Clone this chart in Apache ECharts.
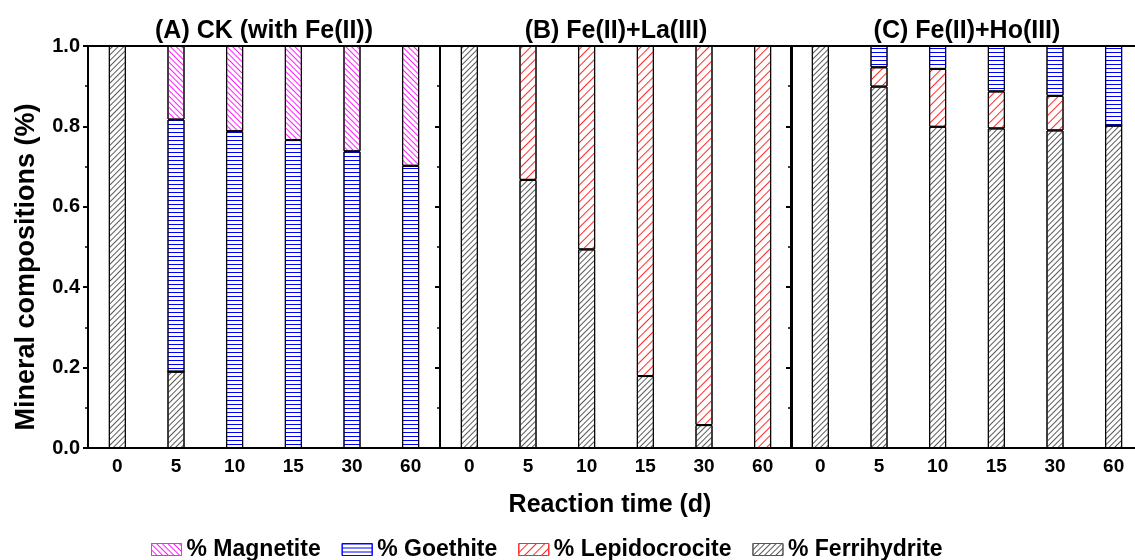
<!DOCTYPE html>
<html>
<head>
<meta charset="UTF-8">
<title>Mineral compositions</title>
<style>
  body { margin: 0; background: #fff; }
  #main { width: 1135px; height: 560px; }
</style>
</head>
<body>
<div id="main"></div>
<script src="https://cdn.jsdelivr.net/npm/echarts@6/dist/echarts.min.js"></script>
<script>
// reaction time categories (days)
var days = ['0', '5', '10', '15', '30', '60'];
var panelTitles = ['(A) CK (with Fe(II))', '(B) Fe(II)+La(III)', '(C) Fe(II)+Ho(III)'];

// fractions per panel, bottom to top: ferrihydrite, lepidocrocite, goethite, magnetite
var ferrihydriteA = [1, 0.19, 0, 0, 0, 0];
var lepidocrociteA = [0, 0, 0, 0, 0, 0];
var goethiteA = [0, 0.627, 0.788, 0.766, 0.738, 0.702];
var magnetiteA = [0, 0.183, 0.212, 0.234, 0.262, 0.298];

var ferrihydriteB = [1, 0.667, 0.494, 0.179, 0.057, 0];
var lepidocrociteB = [0, 0.333, 0.506, 0.821, 0.943, 1];
var goethiteB = [0, 0, 0, 0, 0, 0];
var magnetiteB = [0, 0, 0, 0, 0, 0];

var ferrihydriteC = [1, 0.899, 0.799, 0.795, 0.79, 0.802];
var lepidocrociteC = [0, 0.048, 0.144, 0.092, 0.086, 0];
var goethiteC = [0, 0.053, 0.057, 0.113, 0.124, 0.198];
var magnetiteC = [0, 0, 0, 0, 0, 0];

var legendOrder = ['% Magnetite', '% Goethite', '% Lepidocrocite', '% Ferrihydrite'];

// hatch decals: gap = space between lines, rot = angle
function hatch(color, gap, rot) {
  return { symbol: 'rect', symbolSize: 1, color: color,
    dashArrayX: [1, 0], dashArrayY: [1, gap], rotation: rot };
}

var minerals = [
  { name: '% Ferrihydrite', line: '#555', decal: hatch('#5a5a5a', 3, -Math.PI / 4), data: [ferrihydriteA, ferrihydriteB, ferrihydriteC] },
  { name: '% Lepidocrocite', line: '#ff2a2a', decal: hatch('#ff2a2a', 5, -Math.PI / 4), data: [lepidocrociteA, lepidocrociteB, lepidocrociteC] },
  { name: '% Goethite', line: '#0000ff', decal: hatch('#0000ff', 3, 0), data: [goethiteA, goethiteB, goethiteC] },
  { name: '% Magnetite', line: '#ff20ff', decal: hatch('#ff20ff', 3, Math.PI / 4), data: [magnetiteA, magnetiteB, magnetiteC] }
];

var gridLeft = [88, 440, 791];
var gridW = 352;
var font = 'Liberation Sans, Arial, sans-serif';

var grids = [], xAxes = [], yAxes = [], series = [], graphics = [];
for (var p = 0; p < 3; p++) {
  // last panel runs off the right edge, so don't let the grid be squeezed in
  grids.push({ left: gridLeft[p], top: 46, width: gridW, height: 402, outerBoundsMode: 'none',
    show: true, borderColor: '#000', borderWidth: 2, backgroundColor: 'transparent' });
  xAxes.push({
    type: 'category', gridIndex: p, data: days, position: 'bottom',
    axisLine: { lineStyle: { color: '#000', width: 2 } },
    axisTick: { alignWithLabel: true, length: 5, lineStyle: { color: '#000', width: 2 } },
    axisLabel: { color: '#000', fontWeight: 'bold', fontSize: 19, fontFamily: font, margin: 9 }
  });
  xAxes.push({
    type: 'category', gridIndex: p, data: days, position: 'bottom',
    axisLine: { show: false },
    axisTick: { length: 3, lineStyle: { color: '#000', width: 2 } },
    axisLabel: { show: false }
  });
  yAxes.push({
    type: 'value', gridIndex: p, min: 0, max: 1, interval: 0.2,
    splitLine: { show: false },
    axisLine: { show: true, lineStyle: { color: '#000', width: 2 } },
    axisTick: { show: true, length: 5, lineStyle: { color: '#000', width: 2 } },
    minorTick: { show: true, splitNumber: 2, length: 3, lineStyle: { color: '#000', width: 1.5 } },
    axisLabel: { show: p === 0, color: '#000', fontWeight: 'bold', fontSize: 20, fontFamily: font, margin: 8,
      formatter: function (v) { return v.toFixed(1); } }
  });
  minerals.forEach(function (m) {
    series.push({
      name: m.name, type: 'bar', stack: 'p' + p,
      xAxisIndex: p * 2, yAxisIndex: p,
      barWidth: 17,
      itemStyle: { color: '#fff', decal: m.decal, borderColor: '#000', borderWidth: 1 },
      data: m.data[p]
    });
  });
  graphics.push({
    type: 'text', x: gridLeft[p] + gridW / 2, y: 31,
    style: { text: panelTitles[p], font: 'bold 25px ' + font, fill: '#000', align: 'center', verticalAlign: 'middle' }
  });
}

graphics.push({
  type: 'text', x: 610, y: 505,
  style: { text: 'Reaction time (d)', font: 'bold 25px ' + font, fill: '#000', align: 'center', verticalAlign: 'middle' }
});
graphics.push({
  type: 'text', x: 27, y: 267, rotation: Math.PI / 2,
  style: { text: 'Mineral compositions (%)', font: 'bold 27px ' + font, fill: '#000', align: 'center', verticalAlign: 'middle' }
});

var legendData = legendOrder.map(function (n) {
  var m = minerals.filter(function (x) { return x.name === n; })[0];
  return { name: n, icon: 'rect', itemStyle: { borderColor: m.line, borderWidth: 1 } };
});

var myChart = echarts.init(document.getElementById('main'));
myChart.setOption({
  animation: false,
  grid: grids,
  xAxis: xAxes,
  yAxis: yAxes,
  legend: {
    data: legendData,
    left: 146, top: 533,
    itemWidth: 30, itemHeight: 12, itemGap: 21,
    textStyle: { color: '#000', fontWeight: 'bold', fontSize: 23, fontFamily: font }
  },
  graphic: graphics,
  series: series
});
</script>
</body>
</html>
